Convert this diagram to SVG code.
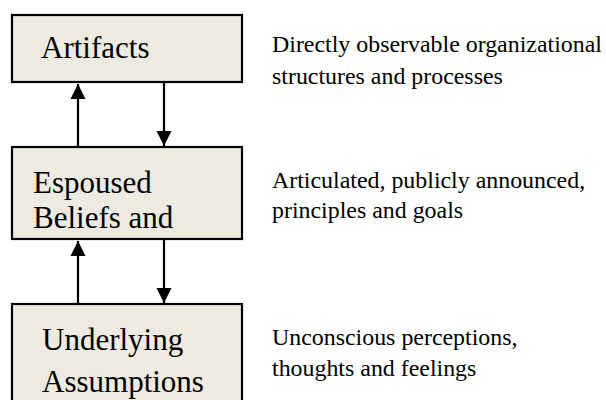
<svg xmlns="http://www.w3.org/2000/svg" width="606" height="400" viewBox="0 0 606 400">
<style>
.box{fill:#EDEBE1;stroke:#000;stroke-width:2.2}
.lbl{font-family:'Liberation Serif','Tinos','DejaVu Serif','Times New Roman',serif;font-size:31px;fill:#000}
.desc{font-family:'Liberation Serif','Tinos','DejaVu Serif','Times New Roman',serif;font-size:23.9px;fill:#000}
.con{stroke:#000;stroke-width:2.2;fill:none}
</style>
<defs>
<marker id="ah" viewBox="0 0 10 10" refX="10" refY="5" markerWidth="7" markerHeight="7" orient="auto" markerUnits="strokeWidth">
<path d="M0,0 L10,5 L0,10 Z" fill="#000"/>
</marker>
</defs>
<rect width="606" height="400" fill="#fff"/>
<g id="artifacts">
<rect class="box" x="12" y="15" width="230" height="67"/>
<text class="lbl" x="41" y="58">Artifacts</text>
</g>
<g id="espoused">
<rect class="box" x="12" y="147" width="230" height="92"/>
<text class="lbl" x="33" y="193">Espoused</text>
<text class="lbl" x="33" y="228">Beliefs and</text>
</g>
<g id="underlying">
<rect class="box" x="12" y="304" width="230" height="110"/>
<text class="lbl" x="42" y="350">Underlying</text>
<text class="lbl" x="42" y="392">Assumptions</text>
</g>
<g id="descriptions">
<text class="desc" x="272" y="52">Directly observable organizational</text>
<text class="desc" x="272" y="84">structures and processes</text>
<text class="desc" x="272" y="188">Articulated, publicly announced,</text>
<text class="desc" x="272" y="218">principles and goals</text>
<text class="desc" x="272" y="345">Unconscious perceptions,</text>
<text class="desc" x="272" y="376">thoughts and feelings</text>
</g>
<g id="connectors">
<line class="con" x1="78" y1="147" x2="78" y2="84" marker-end="url(#ah)"/>
<line class="con" x1="164" y1="82" x2="164" y2="146" marker-end="url(#ah)"/>
<line class="con" x1="78" y1="304" x2="78" y2="241" marker-end="url(#ah)"/>
<line class="con" x1="164" y1="239" x2="164" y2="303" marker-end="url(#ah)"/>
</g>
</svg>
